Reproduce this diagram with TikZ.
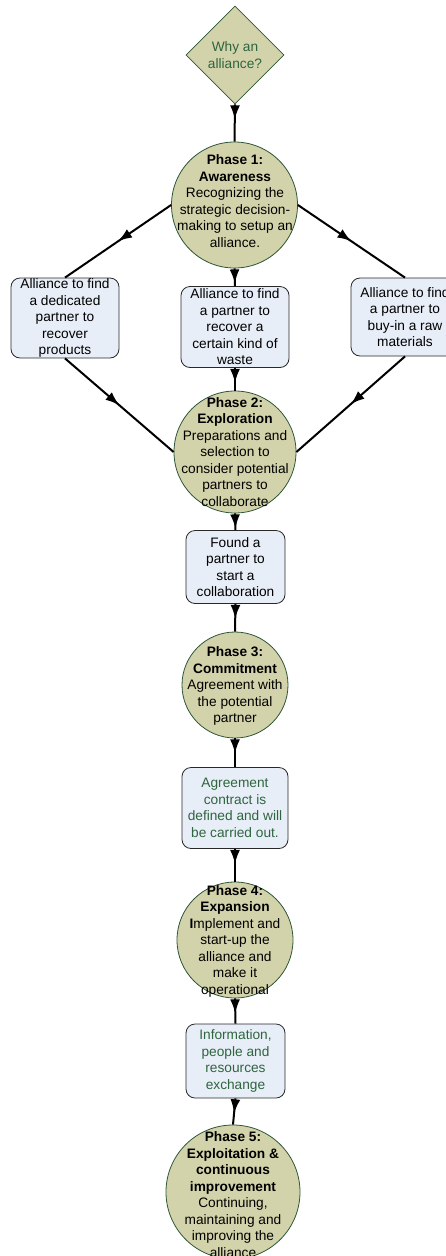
\documentclass[tikz,border=0pt]{standalone}
\usepackage{fontspec}
\setmainfont{Liberation Sans}
\usepackage{xcolor}
\usetikzlibrary{shapes, arrows, arrows.meta, positioning, decorations.markings}

\definecolor{phasefill}{RGB}{211,211,171}
\definecolor{phaseline}{RGB}{45,85,55}
\definecolor{boxfill}{RGB}{232,238,248}
\definecolor{boxline}{RGB}{40,40,40}
\definecolor{greentext}{RGB}{46,100,62}

\begin{document}
\begin{tikzpicture}[x=1pt, y=-1pt, line width=2pt,
    txt/.style={font=\fontsize{13.7}{16.5}\selectfont, align=center, inner sep=0pt},
    phase/.style={circle, draw=phaseline, line width=0.8pt, fill=phasefill, inner sep=0pt},
    question/.style={diamond, draw=phaseline, line width=0.8pt, fill=phasefill, inner sep=0pt, txt, text=greentext},
    outcome/.style={rectangle, rounded corners=9pt, draw=boxline, line width=0.8pt, fill=boxfill, txt},
    flow/.style={postaction={decorate}, decoration={markings, mark=at position 15pt with {\arrow{Latex[length=14pt,width=10pt]}}}},
    midflow/.style={postaction={decorate}, decoration={markings, mark=at position 0.5 with {\arrow{Latex[length=14pt,width=10pt]}}}}]
    \useasboundingbox (0,0) rectangle (446,1256);
    \clip (0,0) rectangle (446,1256);

    % question
    \node [question, minimum width=98pt, minimum height=98pt] (why) at (235, 55) {Why an\\alliance?};

    % phases
    \node [phase, minimum size=126pt] (p1) at (234.5, 205) {};
    \node [phase, minimum size=122pt] (p2) at (235, 452) {};
    \node [phase, minimum size=106pt] (p3) at (235, 685) {};
    \node [phase, minimum size=116pt] (p4) at (235, 940) {};
    \node [phase, minimum size=134pt] (p5) at (233, 1192) {};

    \node [txt] (p1txt) at (235, 201) {\textbf{Phase 1:}\\\textbf{Awareness}\\Recognizing the\\strategic decision-\\making to setup an\\alliance.};
    \node [txt] (p2txt) at (235, 452) {\textbf{Phase 2:}\\\textbf{Exploration}\\Preparations and\\selection to\\consider potential\\partners to\\collaborate};
    \node [txt] (p3txt) at (235, 686) {\textbf{Phase 3:}\\\textbf{Commitment}\\Agreement with\\the potential\\partner};
    \node [txt] (p4txt) at (235, 941) {\textbf{Phase 4:}\\\textbf{Expansion}\\\textbf{I}mplement and\\start-up the\\alliance and\\make it\\operational};
    \node [txt] (p5txt) at (233, 1194.5) {\textbf{Phase 5:}\\\textbf{Exploitation \&}\\\textbf{continuous}\\\textbf{improvement}\\Continuing,\\maintaining and\\improving the\\alliance};

    % outcomes
    \node [outcome, minimum width=108pt, minimum height=80pt] (lbox) at (65, 318) {Alliance to find\\a dedicated\\partner to\\recover\\products};
    \node [outcome, minimum width=108pt, minimum height=81pt] (mbox) at (235, 327) {Alliance to find\\a partner to\\recover a\\certain kind of\\waste};
    \node [outcome, minimum width=108pt, minimum height=78pt] (rbox) at (405, 317) {Alliance to find\\a partner to\\buy-in a raw\\materials};
    \node [outcome, minimum width=99pt, minimum height=73pt] (found) at (235.5, 567) {Found a\\partner to\\start a\\collaboration};
    \node [outcome, minimum width=106pt, minimum height=81pt, text=greentext] (agree) at (235, 808) {Agreement\\contract is\\defined and will\\be carried out.};
    \node [outcome, minimum width=99pt, minimum height=74pt, text=greentext] (info) at (235.5, 1061) {Information,\\people and\\resources\\exchange};

    % connectors
    \path (why.south) edge[flow] (p1.north);
    \path (p1.west) edge[midflow] (lbox.north);
    \path (p1.east) edge[midflow] (rbox.north);
    \path (p1.south) edge[flow] (mbox.north);
    \path (lbox.south) edge[midflow] (p2.west);
    \path (rbox.south) edge[midflow] (p2.east);
    \path (mbox.south) edge[flow] (p2.north);
    \path (p2.south) edge[flow] (found.north);
    \path (found.south) edge[flow] (p3.north);
    \path (p3.south) edge[flow] (agree.north);
    \path (agree.south) edge[flow] (p4.north);
    \path (p4.south) edge[flow] (info.north);
    \path (info.south) edge[flow] (p5.north);
\end{tikzpicture}
\end{document}
